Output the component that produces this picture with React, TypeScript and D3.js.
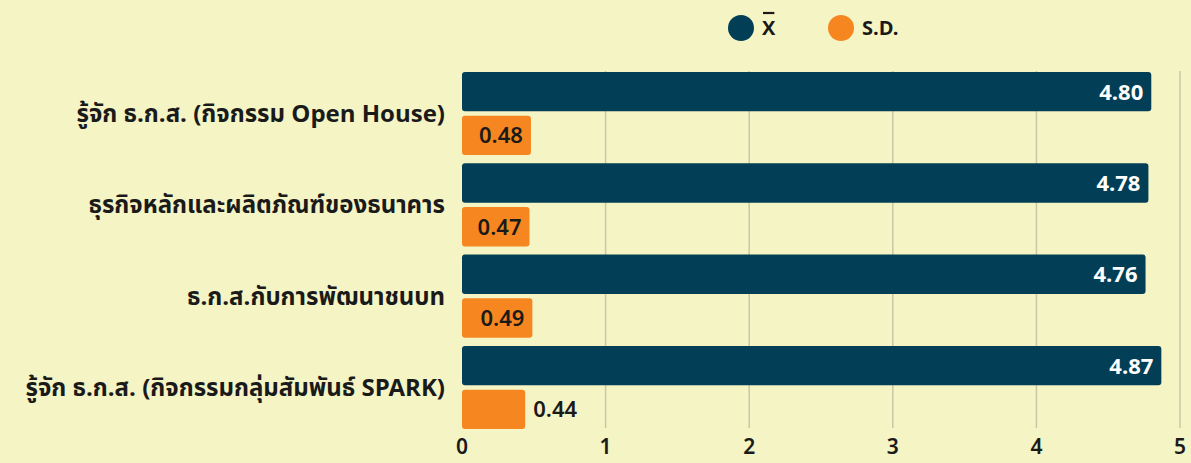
import React from 'react';
import * as d3 from 'd3';

const categories = [
  'รู้จัก ธ.ก.ส. (กิจกรรม Open House)',
  'ธุรกิจหลักและผลิตภัณฑ์ของธนาคาร',
  'ธ.ก.ส.กับการพัฒนาชนบท',
  'รู้จัก ธ.ก.ส. (กิจกรรมกลุ่มสัมพันธ์ SPARK)',
];
const meanValues = [4.8, 4.78, 4.76, 4.87];
const sdValues = [0.48, 0.47, 0.49, 0.44];
const xTicks = [0, 1, 2, 3, 4, 5];
const seriesNames = ['X', 'S.D.'];

const W = 1191;
const H = 463;
const FONT = '"Noto Sans Thai", "Noto Sans", "Open Sans", sans-serif';

const App: React.FC = () => {
  const svgRef = React.useRef<SVGSVGElement>(null);

  React.useEffect(() => {
    if (!svgRef.current) return;
    const svg = d3.select(svgRef.current);
    svg.selectAll('*').remove();

    const margin = { top: 71, right: 11, bottom: 33, left: 462 };
    const ch = H - margin.top - margin.bottom;
    const colors = ['#023f56', '#f6861f'];

    svg.append('rect').attr('width', W).attr('height', H).attr('fill', '#f5f4c4');

    const g = svg.append('g').attr('transform', `translate(${margin.left},${margin.top})`);

    const x = d3.scaleLinear().domain([0, 5]).range([0, 718]);
    const y = d3.scaleBand().domain(categories).range([0, ch]).paddingInner(0.09).paddingOuter(0.01);
    const inner = d3.scaleBand().domain(['mean', 'sd']).range([0, y.bandwidth()]).paddingInner(0.1);

    // เส้นกริด
    g.selectAll('.grid')
      .data(xTicks.filter(t => t > 0))
      .enter().append('line')
      .attr('x1', d => x(d)).attr('x2', d => x(d))
      .attr('y1', 0).attr('y2', ch - 2)
      .attr('stroke', '#c9c7a8').attr('stroke-width', 1.5);

    // ป้ายแกน x
    g.selectAll('.tick')
      .data(xTicks)
      .enter().append('text')
      .attr('x', d => x(d)).attr('y', ch + 24)
      .attr('text-anchor', 'middle')
      .attr('font-family', FONT).attr('font-size', 21).attr('font-weight', 600)
      .attr('fill', '#1a1a1a')
      .text(d => d);

    // ป้ายหมวดหมู่
    g.selectAll('.cat')
      .data(categories)
      .enter().append('text')
      .attr('x', -17)
      .attr('y', d => (y(d) || 0) + y.bandwidth() / 2)
      .attr('dy', '0.35em')
      .attr('text-anchor', 'end')
      .attr('font-family', FONT).attr('font-size', 24).attr('font-weight', 700)
      .attr('fill', '#1a1a1a')
      .text(d => d);

    categories.forEach((c, i) => {
      const y0 = y(c) || 0;
      const ym = y0 + (inner('mean') || 0);
      g.append('rect')
        .attr('x', 0).attr('y', ym)
        .attr('width', x(meanValues[i])).attr('height', inner.bandwidth())
        .attr('rx', 3).attr('fill', colors[0]);
      g.append('text')
        .attr('x', x(meanValues[i]) - 8).attr('y', ym + inner.bandwidth() / 2)
        .attr('dy', '0.36em').attr('text-anchor', 'end')
        .attr('font-family', FONT).attr('font-size', 22).attr('font-weight', 700)
        .attr('fill', '#ffffff')
        .text(meanValues[i].toFixed(2));

      const ys = y0 + (inner('sd') || 0);
      const bw = x(sdValues[i]);
      g.append('rect')
        .attr('x', 0).attr('y', ys)
        .attr('width', bw).attr('height', inner.bandwidth())
        .attr('rx', 3).attr('fill', colors[1]);
      const t = g.append('text')
        .attr('y', ys + inner.bandwidth() / 2)
        .attr('dy', '0.36em')
        .attr('font-family', FONT).attr('font-size', 22).attr('font-weight', 600)
        .attr('fill', '#1a1a1a')
        .text(sdValues[i].toFixed(2));
      const tw = (t.node() as SVGTextElement).getComputedTextLength();
      // ถ้าใส่ในแท่งได้ให้อยู่ข้างใน ไม่งั้นวางไว้ข้างนอก
      if (bw - tw >= 22) {
        t.attr('x', bw - 8).attr('text-anchor', 'end');
      } else {
        t.attr('x', bw + 8).attr('text-anchor', 'start');
      }
    });

    // คำอธิบายสัญลักษณ์
    const legend = svg.append('g').attr('transform', 'translate(741,28)');
    const lx = [0, 100];
    seriesNames.forEach((s, i) => {
      legend.append('circle').attr('cx', lx[i]).attr('cy', 0).attr('r', 13).attr('fill', colors[i]);
      const lt = legend.append('text')
        .attr('x', lx[i] + 21).attr('y', 0).attr('dy', '0.36em')
        .attr('font-family', FONT).attr('font-size', 20).attr('font-weight', 700)
        .attr('fill', '#1a1a1a')
        .text(s);
      if (i === 0) {
        const w = (lt.node() as SVGTextElement).getComputedTextLength();
        legend.append('line')
          .attr('x1', lx[i] + 22).attr('x2', lx[i] + 20 + w)
          .attr('y1', -15).attr('y2', -15)
          .attr('stroke', '#1a1a1a').attr('stroke-width', 2.2);
      }
    });
  }, []);

  return (
    <svg
      ref={svgRef}
      width={W}
      height={H}
      style={{ display: 'block', position: 'absolute', left: 0, top: 0 }}
    />
  );
};

export default App;
